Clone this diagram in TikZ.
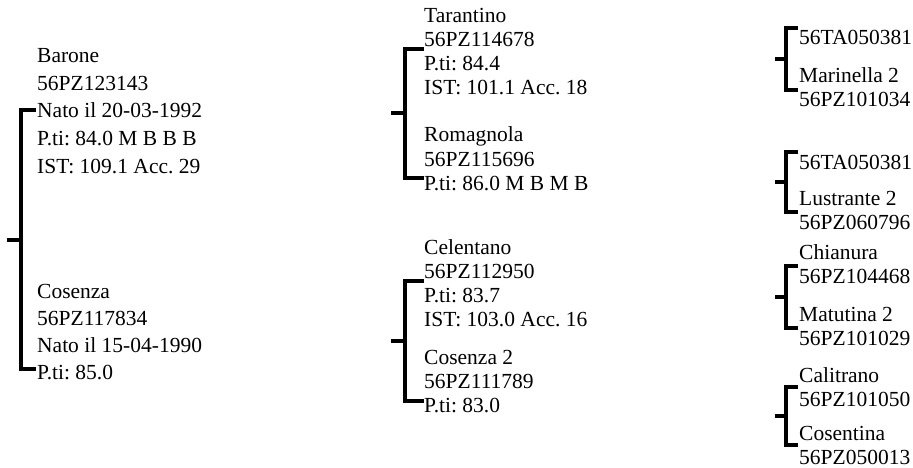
\documentclass[tikz,border=0pt]{standalone}
\usepackage{fontspec}
\setmainfont{Liberation Serif}
\frenchspacing
\newcommand\pedblock[5]{%
  \foreach \t [count=\i] in {#5} \node[txt] (#1\i) at (#2,{#3+7+(\i-1)*#4}) {\t};}
\begin{document}
\begin{tikzpicture}[x=1pt,y=-1pt,
  txt/.style={anchor=base west,inner sep=0pt,font=\fontsize{21.5}{25}\selectfont},
  br/.style={line width=4.5pt,line cap=butt,line join=miter}]
\useasboundingbox (0,0) rectangle (913,468);
% column 1
\pedblock{A}{37}{56}{27.5}{Barone,56PZ123143,Nato il 20-03-1992,P.ti: 84.0 M B B B,IST: 109.1 Acc. 29}
\pedblock{B}{37}{291}{27}{Cosenza,56PZ117834,Nato il 15-04-1990,P.ti: 85.0}
% column 2
\pedblock{C}{424}{16}{24}{Tarantino,56PZ114678,P.ti: 84.4,IST: 101.1 Acc. 18}
\pedblock{D}{424}{135}{24}{Romagnola,56PZ115696,P.ti: 86.0 M B M B}
\pedblock{E}{424}{247}{24}{Celentano,56PZ112950,P.ti: 83.7,IST: 103.0 Acc. 16}
\pedblock{F}{424}{357}{24}{Cosenza 2,56PZ111789,P.ti: 83.0}
% column 3
\pedblock{G}{799}{38}{24}{56TA050381}
\pedblock{H}{799}{76}{24}{Marinella 2,56PZ101034}
\pedblock{I}{799}{162}{24}{56TA050381}
\pedblock{J}{799}{198}{24}{Lustrante 2,56PZ060796}
\pedblock{K}{799}{252}{24}{Chianura,56PZ104468}
\pedblock{L}{799}{314}{24}{Matutina 2,56PZ101029}
\pedblock{M}{799}{375}{24}{Calitrano,56PZ101050}
\pedblock{N}{799}{433}{24}{Cosentina,56PZ050013}
% bracket coordinates
\coordinate (b1t) at (36,110);  \coordinate (b1b) at (36,369);  \coordinate (b1m) at (7,240);
\coordinate (b2t) at (424,49);  \coordinate (b2b) at (424,178); \coordinate (b2m) at (391,113);
\coordinate (b3t) at (424,281); \coordinate (b3b) at (424,401); \coordinate (b3m) at (391,341);
\coordinate (b4t) at (798,28);  \coordinate (b4b) at (798,90);  \coordinate (b4m) at (775,59);
\coordinate (b5t) at (798,152); \coordinate (b5b) at (798,212); \coordinate (b5m) at (775,182);
\coordinate (b6t) at (798,266); \coordinate (b6b) at (798,328); \coordinate (b6m) at (775,297);
\coordinate (b7t) at (798,387); \coordinate (b7b) at (798,445); \coordinate (b7m) at (775,416);
\draw[br] (b1t) -- ++(-15,0) |- (b1b); \draw[br] (b1m) -- ++(14,0);
\draw[br] (b2t) -- ++(-19,0) |- (b2b); \draw[br] (b2m) -- ++(14,0);
\draw[br] (b3t) -- ++(-19,0) |- (b3b); \draw[br] (b3m) -- ++(14,0);
\draw[br] (b4t) -- ++(-12,0) |- (b4b); \draw[br] (b4m) -- ++(11,0);
\draw[br] (b5t) -- ++(-12,0) |- (b5b); \draw[br] (b5m) -- ++(11,0);
\draw[br] (b6t) -- ++(-12,0) |- (b6b); \draw[br] (b6m) -- ++(11,0);
\draw[br] (b7t) -- ++(-12,0) |- (b7b); \draw[br] (b7m) -- ++(11,0);
\end{tikzpicture}
\end{document}
